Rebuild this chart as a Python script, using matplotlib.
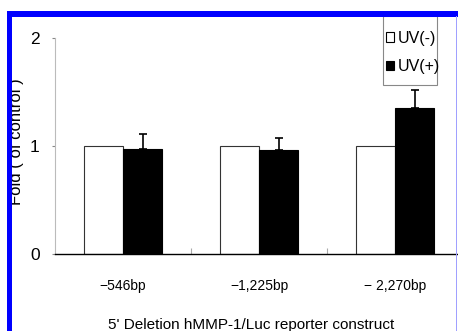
import matplotlib
matplotlib.use("Agg")
import matplotlib.pyplot as plt
from matplotlib.patches import Rectangle, Patch
import numpy as np

categories = ['\u2212546bp', '\u22121,225bp', '\u2212 2,270bp']
uv_minus = [1.0, 1.0, 1.0]
uv_plus = [0.97, 0.96, 1.35]
uv_plus_err = [0.14, 0.11, 0.17]
y_ticks = [0, 1, 2]
legend_labels = ['UV(-)', 'UV(+)']

W, H = 458, 331
fig = plt.figure(figsize=(W / 100, H / 100), dpi=100)
fig.patch.set_facecolor('white')

narrow = ['Liberation Sans Narrow', 'Liberation Sans', 'DejaVu Sans']
reg = ['Liberation Sans', 'DejaVu Sans']

ax = fig.add_axes([55 / W, 1 - 254 / H, 408 / W, 216 / H])
x = np.arange(len(categories))
bw = 0.29
ax.bar(x - bw / 2, uv_minus, width=bw, color='white', edgecolor='#333333', linewidth=0.8, zorder=2)
ax.bar(x + bw / 2, uv_plus, width=bw, color='black', edgecolor='black', linewidth=0.8, zorder=2)
ax.errorbar(x + bw / 2, uv_plus, yerr=[np.zeros(len(uv_plus)), uv_plus_err], fmt='none',
            ecolor='black', elinewidth=1.2, capsize=3, capthick=1.2, zorder=3)

ax.set_xlim(-0.5, 2.5)
ax.set_ylim(0, 2)
ax.spines['top'].set_visible(False)
ax.spines['right'].set_visible(False)
ax.spines['left'].set_color('#bbbbbb')
ax.spines['left'].set_linewidth(0.8)
ax.spines['bottom'].set_color('black')
ax.spines['bottom'].set_linewidth(1.0)

ax.set_yticks(y_ticks)
ax.set_yticklabels([str(t) for t in y_ticks], fontfamily=narrow, fontsize=12.5)
ax.tick_params(axis='y', length=2, width=0.8, color='#888888', pad=9)

ax.set_xticks([0.5, 1.5])
ax.set_xticklabels(['', ''])
ax.tick_params(axis='x', which='major', direction='in', length=4, width=0.8, color='#aaaaaa')
ax.set_xticks(x, minor=True)
ax.set_xticklabels(categories, minor=True, fontfamily=narrow, fontsize=10)
ax.tick_params(axis='x', which='minor', length=0, pad=18)

fig.text(251 / W, 1 - 325 / H, "5' Deletion hMMP-1/Luc reporter construct",
         ha='center', va='center', fontsize=11, fontfamily=reg)
fig.text(17 / W, 1 - 142 / H, 'Fold ( of control )', rotation=90,
         ha='center', va='center', fontsize=12, fontfamily=reg)

handles = [Patch(facecolor='white', edgecolor='black', linewidth=0.8),
           Patch(facecolor='black', edgecolor='black', linewidth=0.8)]
leg = fig.legend(handles, legend_labels, loc='center left',
                 bbox_to_anchor=(383 / W, 1 - 52.5 / H), frameon=False,
                 prop={'family': narrow, 'size': 11.5},
                 handlelength=0.5, handleheight=0.55, handletextpad=0.2,
                 borderpad=0.1, labelspacing=0.85, borderaxespad=0.1)
fig.patches.append(Rectangle((383 / W, 1 - 85 / H), 54 / W, 69 / H, transform=fig.transFigure,
                             facecolor='none', edgecolor='#888888', linewidth=0.8, zorder=4))

# screenshot borders
fig.patches.append(Rectangle((7 / W, 0), 5 / W, 1 - 11 / H, transform=fig.transFigure,
                             facecolor='#0000ff', edgecolor='none', zorder=10))
fig.patches.append(Rectangle((7 / W, 1 - 16.5 / H), 1 - 7 / W, 5.5 / H, transform=fig.transFigure,
                             facecolor='#0000ff', edgecolor='none', zorder=10))
fig.patches.append(Rectangle((455.5 / W, 0), 1.5 / W, 1 - 16 / H, transform=fig.transFigure,
                             facecolor='#a0a0ff', edgecolor='none', zorder=10))

fig.savefig('out.png', dpi=100)
